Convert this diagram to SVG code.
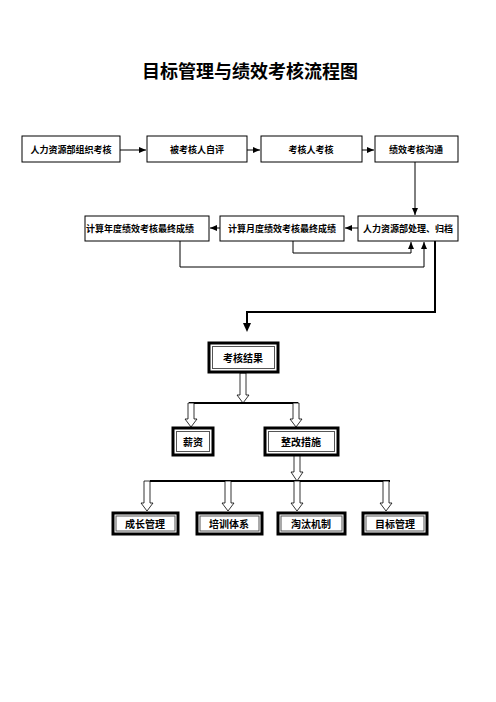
<svg xmlns="http://www.w3.org/2000/svg" width="496" height="702" viewBox="0 0 496 702">
<defs>
<marker id="ah" markerWidth="8" markerHeight="8" refX="7" refY="4" orient="auto" markerUnits="userSpaceOnUse">
<path d="M0,1 L7,4 L0,7 Z" fill="#000"/>
</marker>
<style>
.box{fill:#fff;stroke:#000;stroke-width:1}
.t{font-family:"Noto Sans CJK SC","Liberation Sans",sans-serif;font-size:9px;font-weight:bold;fill:#000;text-anchor:middle;dominant-baseline:central}
.t2{font-family:"Noto Sans CJK SC","Liberation Sans",sans-serif;font-size:10px;font-weight:bold;fill:#000;text-anchor:middle;dominant-baseline:central}
.o{fill:#fff;stroke:#000;stroke-width:3}
.i{fill:none;stroke:#555;stroke-width:1}
.ln{fill:none;stroke:#000;stroke-width:1}
.th{fill:none;stroke:#000;stroke-width:2}
.ha{fill:#fff;stroke:#000;stroke-width:0.8}
</style>
</defs>
<rect width="496" height="702" fill="#fff"/>
<text x="250" y="70" font-family="Noto Sans CJK SC,Liberation Sans,sans-serif" font-size="18" font-weight="bold" text-anchor="middle" dominant-baseline="central">目标管理与绩效考核流程图</text>

<g id="connectors">
<line class="ln" x1="120" y1="150" x2="146" y2="150" marker-end="url(#ah)"/>
<line class="ln" x1="247" y1="150" x2="260" y2="150" marker-end="url(#ah)"/>
<line class="ln" x1="362" y1="150" x2="374" y2="150" marker-end="url(#ah)"/>
<line class="ln" x1="415" y1="162" x2="415" y2="215" marker-end="url(#ah)"/>
<line class="ln" x1="358" y1="228" x2="345" y2="228" marker-end="url(#ah)"/>
<line class="ln" x1="220" y1="228" x2="210" y2="228" marker-end="url(#ah)"/>
<polyline class="ln" points="293,241 293,253 411,253 411,242" marker-end="url(#ah)"/>
<polyline class="ln" points="180,241 180,267 424,267 424,242" marker-end="url(#ah)"/>
<polyline class="th" points="435,241 435,312 247,312 247,325"/>
<path d="M243,323 L251,323 L247,332 Z" fill="#000"/>
<path class="ha" d="M240,373 L246,373 L246,395 L249,395 L243,403 L237,395 L240,395 Z"/>
<line class="th" x1="189" y1="403" x2="298" y2="403"/>
<path class="ha" d="M188,403 L194,403 L194,419 L197,419 L191,427 L185,419 L188,419 Z"/>
<path class="ha" d="M293,403 L299,403 L299,419 L302,419 L296,427 L290,419 L293,419 Z"/>
<path class="ha" d="M294,455 L300,455 L300,472 L303,472 L297,481 L291,472 L294,472 Z"/>
<line class="th" x1="150" y1="481" x2="390" y2="481"/>
<path class="ha" d="M144,481 L150,481 L150,503 L153,503 L147,511 L141,503 L144,503 Z"/>
<path class="ha" d="M225,481 L231,481 L231,503 L234,503 L228,511 L222,503 L225,503 Z"/>
<path class="ha" d="M294,481 L300,481 L300,503 L303,503 L297,511 L291,503 L294,503 Z"/>
<path class="ha" d="M383,481 L389,481 L389,503 L392,503 L386,511 L380,503 L383,503 Z"/>
</g>

<g id="n1"><rect class="box" x="22" y="136" width="98" height="26"/><text class="t" x="71" y="149">人力资源部组织考核</text></g>
<g id="n2"><rect class="box" x="147" y="136" width="100" height="26"/><text class="t" x="197" y="149">被考核人自评</text></g>
<g id="n3"><rect class="box" x="261" y="136" width="101" height="26"/><text class="t" x="311" y="149">考核人考核</text></g>
<g id="n4"><rect class="box" x="375" y="136" width="83" height="26"/><text class="t" x="416" y="149">绩效考核沟通</text></g>
<g id="n5"><rect class="box" x="358" y="216" width="100" height="25"/><text class="t" x="408" y="228">人力资源部处理、归档</text></g>
<g id="n6"><rect class="box" x="220" y="216" width="124" height="25"/><text class="t" x="282" y="228">计算月度绩效考核最终成绩</text></g>
<g id="n7"><rect class="box" x="85" y="216" width="124" height="25"/><text class="t" x="140" y="228">计算年度绩效考核最终成绩</text></g>

<g id="n8"><rect class="o" x="209" y="343" width="69" height="29"/><rect class="i" x="212.5" y="346.5" width="62" height="22"/><text class="t2" x="243" y="357">考核结果</text></g>
<g id="n9"><rect class="o" x="173" y="428" width="40" height="27"/><rect class="i" x="176.5" y="431.5" width="33" height="20"/><text class="t2" x="193" y="441">薪资</text></g>
<g id="n10"><rect class="o" x="265" y="428" width="73" height="27"/><rect class="i" x="268.5" y="431.5" width="66" height="20"/><text class="t2" x="301" y="441">整改措施</text></g>
<g id="n11"><rect class="o" x="113" y="513" width="65" height="21"/><rect class="i" x="116" y="516" width="59" height="15"/><text class="t2" x="145" y="523.5">成长管理</text></g>
<g id="n12"><rect class="o" x="197" y="513" width="65" height="21"/><rect class="i" x="200" y="516" width="59" height="15"/><text class="t2" x="229" y="523.5">培训体系</text></g>
<g id="n13"><rect class="o" x="278" y="513" width="67" height="21"/><rect class="i" x="281" y="516" width="61" height="15"/><text class="t2" x="311" y="523.5">淘汰机制</text></g>
<g id="n14"><rect class="o" x="363" y="513" width="64" height="21"/><rect class="i" x="366" y="516" width="58" height="15"/><text class="t2" x="395" y="523.5">目标管理</text></g>
</svg>
